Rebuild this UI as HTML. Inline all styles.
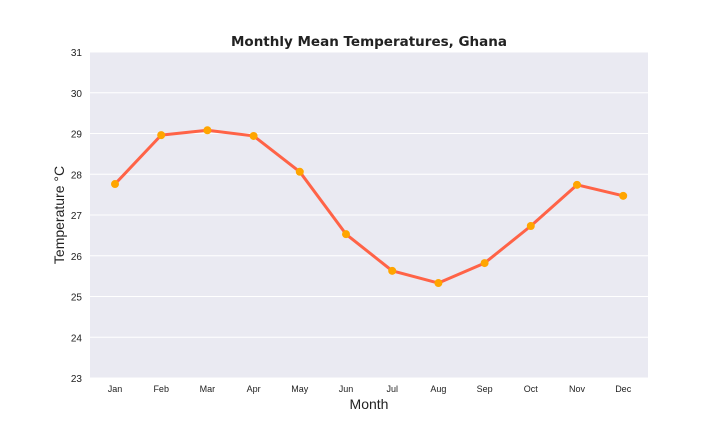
<!DOCTYPE html>
<html><head><meta charset="utf-8"><style>
body{margin:0;background:#fff;width:720px;height:432px;overflow:hidden}
text{font-family:"Liberation Sans",sans-serif}
</style></head><body>
<svg width="720" height="432">
<rect x="90" y="52" width="558" height="326" fill="#eaeaf2"/>
<g id="grid"></g><g id="yt"></g><g id="xt"></g>
<polyline id="line" fill="none" stroke="#ff6347" stroke-width="3" stroke-linejoin="round"/>
<g id="pts"></g>
<text x="369" y="46" text-anchor="middle" font-size="13.5" font-weight="bold" style="font-family:'DejaVu Sans',sans-serif" fill="#222">Monthly Mean Temperatures, Ghana</text>
<text x="369" y="409" text-anchor="middle" font-size="14" fill="#222">Month</text>
<text transform="translate(64,215) rotate(-90)" text-anchor="middle" font-size="14" fill="#222">Temperature °C</text>
</svg>
<script>
const months=["Jan","Feb","Mar","Apr","May","Jun","Jul","Aug","Sep","Oct","Nov","Dec"];
const temps=[27.76,28.96,29.08,28.94,28.06,26.53,25.63,25.33,25.82,26.73,27.74,27.47];
const yTicks=[23,24,25,26,27,28,29,30,31];
const NS="http://www.w3.org/2000/svg";
const x=i=>115+i*46.2;
const y=v=>378-(v-23)*(326/8);
const g=document.getElementById('grid'),yt=document.getElementById('yt'),xt=document.getElementById('xt'),pts=document.getElementById('pts');
yTicks.forEach(t=>{
 const l=document.createElementNS(NS,'line');
 l.setAttribute('x1',90);l.setAttribute('x2',648);l.setAttribute('y1',y(t));l.setAttribute('y2',y(t));
 l.setAttribute('stroke','#fff');l.setAttribute('stroke-width','1');
 
 
 g.appendChild(l);
 const tx=document.createElementNS(NS,'text');
 tx.setAttribute('x',82);tx.setAttribute('y',y(t)+4);tx.setAttribute('text-anchor','end');tx.setAttribute('font-size','10');tx.setAttribute('fill','#222');
 tx.textContent=t;
 
 
 yt.appendChild(tx);
});
months.forEach((m,i)=>{
 const tx=document.createElementNS(NS,'text');
 tx.setAttribute('x',x(i));tx.setAttribute('y',392);tx.setAttribute('text-anchor','middle');tx.setAttribute('font-size','9');tx.setAttribute('fill','#222');
 tx.textContent=m;
 
 
 xt.appendChild(tx);
});
document.getElementById('line').setAttribute('points',temps.map((v,i)=>x(i)+','+y(v)).join(' '));
temps.forEach((v,i)=>{
 const c=document.createElementNS(NS,'circle');
 c.setAttribute('cx',x(i));c.setAttribute('cy',y(v));c.setAttribute('r',4);c.setAttribute('fill','#ffa500');
 
 
 pts.appendChild(c);
});
</script>
</body></html>
